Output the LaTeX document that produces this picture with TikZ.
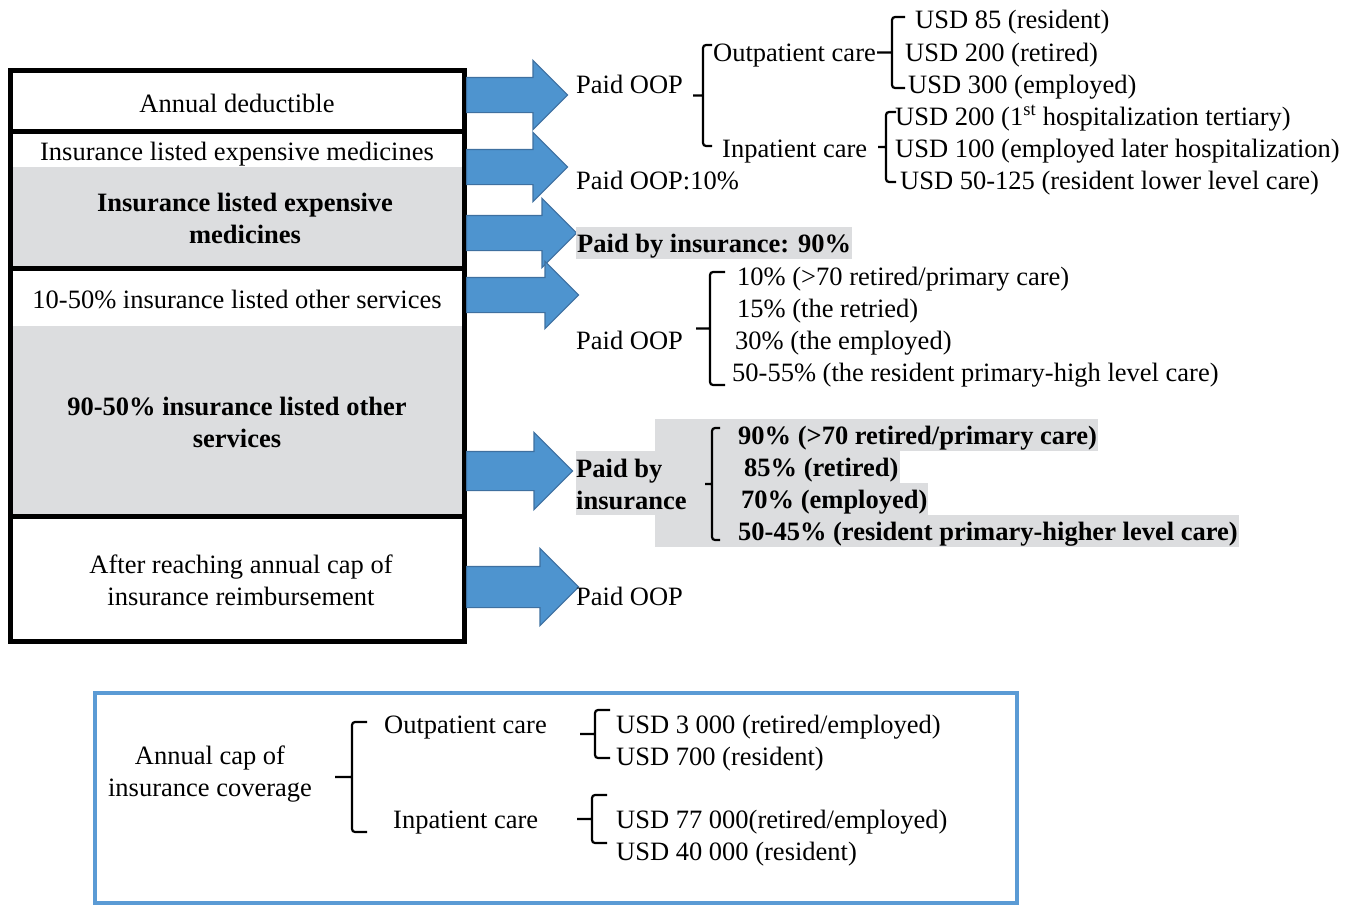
\documentclass[tikz,border=0pt]{standalone}
\usepackage{fontspec}
\setmainfont{Liberation Serif}
\usetikzlibrary{shapes.arrows,calc}

\definecolor{cellgray}{RGB}{220,221,223}
\definecolor{arrowblue}{RGB}{78,148,207}
\definecolor{arrowedge}{RGB}{62,112,160}
\definecolor{capblue}{RGB}{91,155,213}

\begin{document}
\begin{tikzpicture}[x=1pt,y=-1pt,
  txt/.style={font=\fontsize{26.5}{32}\selectfont,inner sep=0pt},
  bold/.style={font=\fontsize{26.5}{32}\selectfont\bfseries,inner sep=0pt},
  lbl/.style={txt,anchor=base west},
  cell/.style={txt,align=center},
  grayrow/.style={bold,anchor=base west,fill=cellgray,text height=25pt,text depth=7pt,inner xsep=1pt},
  frame/.style={line width=5pt},
  barrow/.style 2 args={single arrow,draw=arrowedge,fill=arrowblue,line width=1.2pt,
    anchor=tail,inner xsep=0pt,inner ysep=#1,single arrow head extend=#2},
  bracket/.style 2 args={line width=2.2pt,to path={let \p1=(\tikztostart),\p2=(\tikztotarget) in
    [rounded corners=3pt] (\p1) -- (\x1-#1,\y1) -- (\x1-#1,\y2) -- (\p2)
    (\x1-#1,{(\y1+\y2)/2}) -- (\x1-#1-#2,{(\y1+\y2)/2})}},
]
\useasboundingbox (0,0) rectangle (1356,907);

% left column
\fill[cellgray] (10,167) rectangle (464,268);
\fill[cellgray] (10,326) rectangle (464,516);
\node[cell,anchor=base] (deduct) at (237,112) {Annual deductible};
\node[cell,anchor=base] (medlist) at (237,160) {Insurance listed expensive medicines};
\node[cell,bold,align=center] (medpaid) at (245,218) {Insurance listed expensive\\medicines};
\node[cell,anchor=base] (svclist) at (237,308) {10-50\% insurance listed other services};
\node[cell,bold,align=center] (svcpaid) at (237,422) {90-50\% insurance listed other\\services};
\node[cell] (capreach) at (241,580) {After reaching annual cap of\\insurance reimbursement};
\draw[frame] (10,70) rectangle (464,131);
\draw[frame] (10,131) rectangle (464,268);
\draw[frame] (10,268) rectangle (464,516);
\draw[frame] (10,516) rectangle (464,641);

% block arrows
\node[barrow={17pt}{17pt},minimum height=101pt] (a1) at (466,95) {};
\node[barrow={17pt}{17pt},minimum height=101pt] (a2) at (466,167) {};
\node[barrow={17pt}{17pt},minimum height=110pt] (a3) at (466,233) {};
\node[barrow={17pt}{16pt},minimum height=112pt] (a4) at (466,295) {};
\node[barrow={19pt}{19pt},minimum height=106pt] (a5) at (466,471) {};
\node[barrow={20pt}{18pt},minimum height=112pt] (a6) at (466,587) {};

% deductible
\node[lbl] (oop1) at (576,93) {Paid OOP};
\node[lbl] (outp1) at (713,61) {Outpatient care};
\node[lbl] (usd85) at (915,29) {USD 85 (resident)};
\node[lbl] (usd200r) at (905,61) {USD 200 (retired)};
\node[lbl] (usd300) at (908,93) {USD 300 (employed)};
\node[lbl] (inp1) at (722,157) {Inpatient care};
\node[lbl] (usd200h) at (895,125) {USD 200 (1\textsuperscript{st} hospitalization tertiary)};
\node[lbl] (usd100) at (895,157) {USD 100 (employed later hospitalization)};
\node[lbl] (usd50) at (900,189) {USD 50-125 (resident lower level care)};
\coordinate (b1t) at (712,45);   \coordinate (b1b) at (712,146);
\coordinate (b2t) at (905,17);   \coordinate (b2b) at (905,88);
\coordinate (b3t) at (896,112);  \coordinate (b3b) at (896,182);
\draw[bracket={9pt}{10pt}] (b1t) to (b1b);
\draw[bracket={13pt}{15pt}] (b2t) to (b2b);
\draw[bracket={10pt}{8pt}] (b3t) to (b3b);

% expensive medicines
\node[lbl] (oop2) at (576,189) {Paid OOP:10\%};
\node[grayrow] (ins90) at (576,252) {Paid by insurance: 90\%};

% other services, out of pocket
\node[lbl] (oop3) at (576,349) {Paid OOP};
\node[lbl] (p10) at (737,285) {10\% (>70 retired/primary care)};
\node[lbl] (p15) at (737,317) {15\% (the retried)};
\node[lbl] (p30) at (735,349) {30\% (the employed)};
\node[lbl] (p50) at (732,381) {50-55\% (the resident primary-high level care)};
\coordinate (b4t) at (725,272);  \coordinate (b4b) at (725,385);
\draw[bracket={15pt}{14pt}] (b4t) to (b4b);

% other services, paid by insurance
\fill[cellgray] (655,419) rectangle (744,547);
\fill[cellgray] (576,451) rectangle (655,515);
\node[grayrow] (q90) at (737,444) {90\% (>70 retired/primary care)};
\node[grayrow] (q85) at (743,476) {85\% (retired)};
\node[grayrow] (q70) at (740,508) {70\% (employed)};
\node[grayrow] (q50) at (737,540) {50-45\% (resident primary-higher level care)};
\node[bold,align=left,anchor=west] (insby) at (576,484) {Paid by\\insurance};
\coordinate (b5t) at (720,428);  \coordinate (b5b) at (720,540);
\draw[bracket={8pt}{7pt}] (b5t) to (b5b);

% after the cap
\node[lbl] (oop4) at (576,605) {Paid OOP};

% annual cap
\draw[capblue,line width=4pt] (95,693) rectangle (1017,903);
\node[cell] (capcov) at (210,774) {Annual cap of\\insurance coverage};
\node[lbl] (outp2) at (384,733) {Outpatient care};
\node[lbl] (inp2) at (393,828) {Inpatient care};
\node[lbl] (usd3000) at (616,733) {USD 3 000 (retired/employed)};
\node[lbl] (usd700) at (616,765) {USD 700 (resident)};
\node[lbl] (usd77000) at (616,828) {USD 77 000(retired/employed)};
\node[lbl] (usd40000) at (616,860) {USD 40 000 (resident)};
\coordinate (b6t) at (367,722);  \coordinate (b6b) at (367,832);
\coordinate (b7t) at (610,710);  \coordinate (b7b) at (610,758);
\coordinate (b8t) at (607,795);  \coordinate (b8b) at (607,843);
\draw[bracket={15pt}{17pt}] (b6t) to (b6b);
\draw[bracket={15pt}{15pt}] (b7t) to (b7b);
\draw[bracket={15pt}{15pt}] (b8t) to (b8b);
\end{tikzpicture}
\end{document}
